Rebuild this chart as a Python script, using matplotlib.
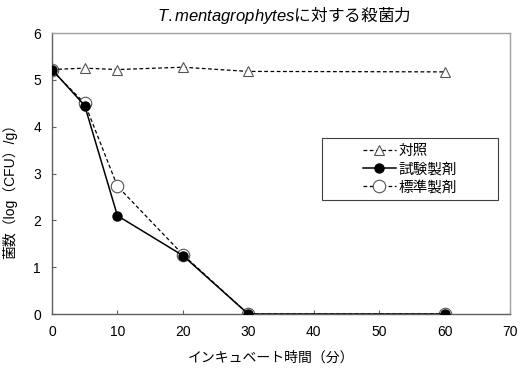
import matplotlib
matplotlib.use('Agg')
import matplotlib.pyplot as plt
from matplotlib.patches import Rectangle

plt.rcParams['font.family'] = ['Liberation Sans', 'Noto Sans CJK JP', 'DejaVu Sans']
plt.rcParams['mathtext.fontset'] = 'custom'
plt.rcParams['mathtext.it'] = 'Liberation Sans:italic'
plt.rcParams['mathtext.rm'] = 'Liberation Sans'

minutes = [0, 5, 10, 20, 30, 60]
control = [5.22, 5.25, 5.22, 5.27, 5.18, 5.17]
test_prep = [5.22, 4.45, 2.10, 1.25, 0.0, 0.0]
std_prep = [5.20, 4.50, 2.73, 1.27, 0.0, 0.0]

fig = plt.figure(figsize=(5.21, 3.73), dpi=100)
ax = fig.add_axes([0.0998, 0.158, 0.879, 0.7535])

ax.plot(minutes, std_prep, '--', color='black', lw=0.9, dashes=(3, 2),
        marker='o', ms=9, mfc='white', mec='#555555', mew=0.8, label='標準製剤', zorder=2)
ax.plot(minutes, test_prep, '-', color='black', lw=1.1,
        marker='o', ms=6.5, mfc='black', mec='black', label='試験製剤', zorder=3)
ax.plot(minutes, control, '--', color='black', lw=0.9, dashes=(3, 2),
        marker='^', ms=7, mfc='white', mec='#555555', mew=0.8, label='対照', zorder=2)

ax.set_xlim(0, 70)
ax.set_ylim(0, 6)
ax.set_xticks(range(0, 71, 10))
ax.set_yticks(range(0, 7))
ax.tick_params(direction='in', length=3, width=0.8, color='#606060',
               labelsize=10, pad=8)

for s in ['left', 'bottom']:
    ax.spines[s].set_color('#606060')
    ax.spines[s].set_linewidth(1.0)
for s in ['top', 'right']:
    ax.spines[s].set_color('#a0a0a0')
    ax.spines[s].set_linewidth(1.0)

ax.set_xlabel('インキュベート時間（分）', fontsize=10)
ax.xaxis.set_label_coords(0.478, -0.13)
ax.set_ylabel('菌数（log（CFU）/g）', fontsize=10)
ax.yaxis.set_label_coords(-0.075, 0.448)

# title: italic species name + japanese, the CJK font has to be the main one here
fig.text(0.545, 0.958, r'$\mathit{T.mentagrophytes}$に対する殺菌力',
         ha='center', va='center', fontsize=12,
         family=['Noto Sans CJK JP', 'DejaVu Sans'])

# legend frame drawn separately so the entries sit centred in a wide box
box = Rectangle((0.5895, 0.406), 0.384, 0.2206, transform=ax.transAxes,
                facecolor='white', edgecolor='#404040', lw=0.8, zorder=4)
ax.add_patch(box)

h, l = ax.get_legend_handles_labels()
order = [2, 1, 0]
leg = ax.legend([h[i] for i in order], [l[i] for i in order],
                loc='center', bbox_to_anchor=(0.7815, 0.516),
                fontsize=10.5, frameon=False,
                handlelength=2.25, handletextpad=0.2, borderpad=0,
                labelspacing=0.3, borderaxespad=0)
leg.set_zorder(5)

fig.savefig('out.png', dpi=100)
